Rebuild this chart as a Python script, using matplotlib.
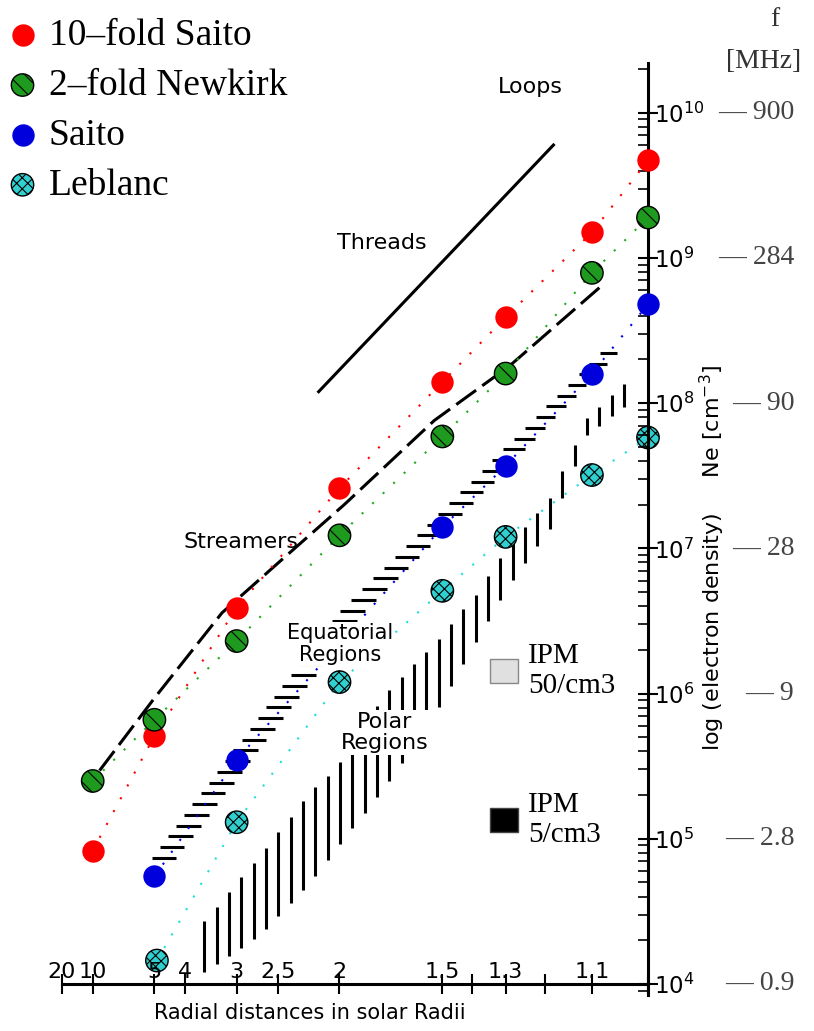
import numpy as np
import matplotlib
matplotlib.use('Agg')
import matplotlib.pyplot as plt
from matplotlib.patches import Patch
from matplotlib.transforms import blended_transform_factory

# radial distance (solar radii) and electron density (cm^-3)
r_model = [10, 5, 3, 2, 1.5, 1.3, 1.1, 1.0]
saito_10 = [8.3e4, 5.1e5, 3.9e6, 2.6e7, 1.4e8, 3.9e8, 1.5e9, 4.7e9]
newkirk_2 = [2.5e5, 6.6e5, 2.3e6, 1.23e7, 5.9e7, 1.6e8, 7.9e8, 1.9e9]

r_saito = [5, 3, 1.5, 1.3, 1.1, 1.0]
saito = [5.5e4, 3.5e5, 1.4e7, 3.7e7, 1.6e8, 4.8e8]

r_leblanc = [4.9, 3, 2, 1.5, 1.3, 1.1, 1.0]
leblanc = [1.45e4, 1.3e5, 1.2e6, 5.1e6, 1.2e7, 3.2e7, 5.8e7]

r_streamers = [9.0, 5, 3.23, 2.5, 1.97, 1.53, 1.29, 1.08]
ne_streamers = [2.95e5, 9.3e5, 3.6e6, 7.9e6, 2.0e7, 7.6e7, 1.8e8, 6.5e8]

r_threads = [2.145, 1.181]
ne_threads = [1.2e8, 6.0e9]

# equatorial regions band (horizontal hatching): left / right edge at given density
eq_ne = [7.4e4, 1.3e6, 3.8e6, 2.0e7, 2.5e8]
eq_r_left = [5.12, 2.39, 1.99, 1.48, 1.07]
eq_r_right = [4.25, 2.18, 1.84, 1.40, 1.04]

# polar regions band (vertical hatching): top / bottom edge at given radius
polar_r = [3.56, 2.68, 2.21, 2.03, 1.74, 1.53, 1.39, 1.29, 1.19, 1.11, 1.02]
polar_top = [2.7e4, 7.9e4, 2.1e5, 3.0e5, 1.0e6, 2.2e6, 4.7e6, 1.05e7, 2.2e7, 7.9e7, 1.63e8]
polar_bottom = [1.2e4, 2.2e4, 5.0e4, 8.3e4, 2.3e5, 7.1e5, 2.2e6, 5.6e6, 1.35e7, 6.0e7, 1.1e8]

r_ticks = [20, 10, 5, 4, 3, 2.5, 2, 1.5, 1.3, 1.1]
r_tick_labels = ['20', '10', '5', '4', '3', '2.5', '2', '1.5', '1.3', '1.1']
r_minor = [1.4, 1.2, 1.0]
ne_ticks = [1e4, 1e5, 1e6, 1e7, 1e8, 1e9, 1e10]
ne_tick_labels = ['$10^4$', '$10^5$', '$10^6$', '$10^7$', '$10^8$', '$10^9$', '$10^{10}$']
f_labels = ['0.9', '2.8', '9', '28', '90', '284', '900']


def inv(r):
    return 1.0 / np.asarray(r, dtype=float)


SERIF = 'Liberation Serif'
SANS = 'DejaVu Sans'
plt.rcParams['hatch.linewidth'] = 0.8

fig = plt.figure(figsize=(8.14, 10.31), dpi=100)
ax = fig.add_axes([31 / 814, 36 / 1031, 617 / 814, 932 / 1031])
ax.set_yscale('log')
ax.set_xlim(0, 1)
ax.set_ylim(10 ** 3.924, 10 ** 10.343)

# polar regions: vertical hatching
pu = inv(polar_r)
u_bars = np.arange(pu[0], pu[-1], 0.02)
top = 10 ** np.interp(u_bars, pu, np.log10(polar_top))
bot = 10 ** np.interp(u_bars, pu, np.log10(polar_bottom))
ax.vlines(u_bars, bot, top, color='black', lw=2.2, zorder=1)

# equatorial regions: horizontal hatching
lev = np.arange(np.log10(eq_ne[0]), np.log10(eq_ne[-1]), 0.074)
ul = np.interp(lev, np.log10(eq_ne), inv(eq_r_left))
ur = np.interp(lev, np.log10(eq_ne), inv(eq_r_right))
ax.hlines(10 ** lev, ul, ur, color='black', lw=2.2, zorder=1)

ax.plot(inv(r_streamers), ne_streamers, color='black', lw=2.2,
        ls=(0, (8, 2.5)), zorder=1)
ax.plot(inv(r_threads), ne_threads, color='black', lw=2.2, zorder=1)

dots = (0, (1, 6))
ax.plot(inv(r_model), saito_10, color='red', lw=1.5, ls=dots, zorder=2)
ax.plot(inv(r_model), newkirk_2, color='#22aa22', lw=1.5, ls=dots, zorder=2)
ax.plot(inv(r_saito), saito, color='#0000dd', lw=1.5, ls=dots, zorder=2)
ax.plot(inv(r_leblanc), leblanc, color='#22dddd', lw=1.5, ls=dots, zorder=1.2)

s = 260
h1 = ax.scatter(inv(r_model), saito_10, s=s, color='#ff0000', lw=0,
                zorder=5, clip_on=False)
h2 = ax.scatter(inv(r_model), newkirk_2, s=s, facecolor='#1e9a1e',
                edgecolor='black', lw=1.0, hatch='\\\\', zorder=5, clip_on=False)
h3 = ax.scatter(inv(r_saito), saito, s=s, color='#0000dd', lw=0,
                zorder=5, clip_on=False)
# drawn under the axis so the tick label "5" stays on top, as in the scan
h4 = ax.scatter(inv(r_leblanc), leblanc, s=s, facecolor='#30d0d0',
                edgecolor='black', lw=1.0, hatch='xxx', zorder=1.4, clip_on=False)

# region labels
lab = dict(family=SANS, ha='center', va='center', zorder=3)
ax.text(inv(1.235), 1.5e10, 'Loops', fontsize=16, **lab)
ax.text(inv(1.761), 1.26e9, 'Threads', fontsize=16, **lab)
ax.text(inv(2.94), 1.1e7, 'Streamers', fontsize=16, **lab)
box = dict(facecolor='white', edgecolor='none', pad=1)
ax.text(inv(1.994), 2.2e6, 'Equatorial\nRegions', fontsize=15, bbox=box,
        linespacing=1.1, **lab)
ax.text(inv(1.746), 5.4e5, 'Polar\nRegions', fontsize=16, bbox=box,
        linespacing=1.1, **lab)

# axes styling
for side in ('top', 'left'):
    ax.spines[side].set_visible(False)
ax.spines['bottom'].set_position(('data', 1e4))
ax.spines['bottom'].set_bounds(inv(20), 1.0)
ax.spines['bottom'].set_linewidth(2.2)
ax.spines['right'].set_linewidth(2.2)

ax.set_xticks(inv(r_ticks))
ax.set_xticklabels(r_tick_labels, family=SANS)
ax.set_xticks(inv(r_minor), minor=True)
ax.tick_params(axis='x', which='both', direction='inout', length=14, width=1.5,
               labelsize=16, pad=-23)

ax.yaxis.tick_right()
ax.set_yticks(ne_ticks)
ax.set_yticklabels(ne_tick_labels)
ax.yaxis.set_minor_locator(matplotlib.ticker.LogLocator(base=10, subs=np.arange(2, 10)))
ax.yaxis.set_minor_formatter(matplotlib.ticker.NullFormatter())
ax.tick_params(axis='y', which='major', direction='inout', length=14, width=1.5,
               labelsize=16.5, pad=-3)
ax.tick_params(axis='y', which='minor', direction='in', length=7, width=1.2)

fig.text(310 / 814, 1 - 1013 / 1031, 'Radial distances in solar Radii',
         family=SANS, fontsize=15, ha='center', va='center')
fig.text(712 / 814, 1 - 558 / 1031, 'log (electron density)     Ne [cm$^{-3}$]',
         family=SANS, fontsize=16, rotation=90, ha='center', va='center')

# plasma frequency scale
tr = blended_transform_factory(ax.transAxes, ax.transData)
for ne, f in zip(ne_ticks, f_labels):
    ax.text(1.237, ne, '\u2014 ' + f, transform=tr, ha='right', va='center',
            family=SERIF, fontsize=20, color='#444444', clip_on=False)
fig.text(775 / 814, 1 - 20 / 1031, 'f', family=SERIF, fontsize=20,
         color='#333333', ha='center', va='center')
fig.text(764 / 814, 1 - 61 / 1031, '[MHz]', family=SERIF, fontsize=20,
         color='#333333', ha='center', va='center')

fig.legend([h1, h2, h3, h4],
           ['10\u2013fold Saito', '2\u2013fold Newkirk', 'Saito', 'Leblanc'],
           loc='upper left', bbox_to_anchor=(0, 1 - 11 / 1031), frameon=False,
           prop=dict(family=SERIF, size=27), handlelength=0.8,
           handletextpad=0.3, labelspacing=0.41, borderpad=0.2,
           borderaxespad=0, scatterpoints=1)

fig.legend([Patch(facecolor='#e0e0e0', edgecolor='#888888'),
            Patch(facecolor='black', edgecolor='#444444')],
           ['IPM\n50/cm3', 'IPM\n5/cm3'],
           loc='upper left', bbox_to_anchor=(490 / 814, 1 - 643 / 1031),
           frameon=False, prop=dict(family=SERIF, size=21),
           handlelength=0.95, handleheight=0.9, handletextpad=0.35,
           labelspacing=3.2, borderpad=0, borderaxespad=0)

fig.savefig('out.png', dpi=100)
